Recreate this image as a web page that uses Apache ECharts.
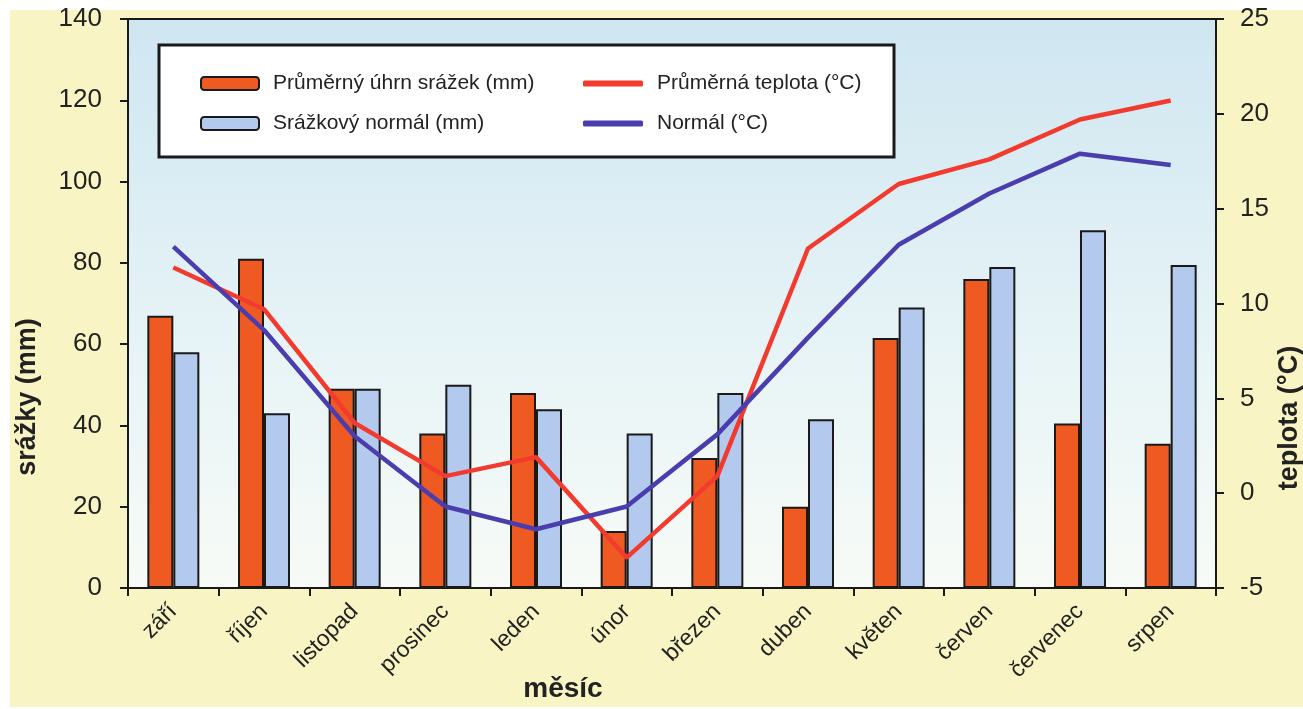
<!DOCTYPE html>
<html>
<head>
<meta charset="utf-8">
<script src="https://cdn.jsdelivr.net/npm/echarts@6/dist/echarts.min.js"></script>
<style>
html,body{margin:0;padding:0;background:#ffffff;}
#chart{width:1303px;height:709px;}
</style>
</head>
<body>
<div id="chart"></div>
<script>
// ---- data ----
var months = ['září','říjen','listopad','prosinec','leden','únor','březen','duben','květen','červen','červenec','srpen'];
var precipAvg = [67, 81, 49, 38, 48, 14, 32, 20, 61.5, 76, 40.5, 35.5];
var precipNormal = [58, 43, 49, 50, 44, 38, 48, 41.5, 69, 79, 88, 79.5];
var tempAvg = [11.9, 9.7, 3.7, 0.9, 1.9, -3.4, 0.9, 12.9, 16.3, 17.6, 19.7, 20.7];
var tempNormal = [13.0, 8.6, 3.0, -0.7, -1.9, -0.7, 3.1, 8.2, 13.1, 15.8, 17.9, 17.3];
var seriesNames = ['Průměrný úhrn srážek (mm)', 'Srážkový normál (mm)', 'Průměrná teplota (°C)', 'Normál (°C)'];
var axisTitles = {left: 'srážky (mm)', right: 'teplota (°C)', bottom: 'měsíc'};

var FONT = 'Arial, "Liberation Sans", Helvetica, sans-serif';
var chart = echarts.init(document.getElementById('chart'), null, {renderer: 'canvas'});

var option = {
  animation: false,
  backgroundColor: '#ffffff',
  textStyle: {fontFamily: FONT},
  graphic: [
    {type: 'rect', z: -10, silent: true, shape: {x: 10, y: 10, width: 1293, height: 697}, style: {fill: '#f8f4c4'}},
    {type: 'rect', z: 1, silent: true, shape: {x: 159, y: 45, width: 735, height: 112}, style: {fill: '#ffffff', stroke: '#1a1a1a', lineWidth: 3}},
    {type: 'text', silent: true, x: 28, y: 397, rotation: Math.PI / 2,
      style: {text: axisTitles.left, font: 'bold 27px ' + FONT, fill: '#222', textAlign: 'center', textVerticalAlign: 'middle'}},
    {type: 'text', silent: true, x: 1290, y: 418, rotation: Math.PI / 2,
      style: {text: axisTitles.right, font: 'bold 27px ' + FONT, fill: '#222', textAlign: 'center', textVerticalAlign: 'middle'}},
    {type: 'text', silent: true, x: 563, y: 689,
      style: {text: axisTitles.bottom, font: 'bold 28px ' + FONT, fill: '#222', textAlign: 'center', textVerticalAlign: 'middle'}}
  ],
  legend: [
    {
      z: 5, left: 200, top: 73, orient: 'vertical', padding: 0,
      itemWidth: 58, itemHeight: 13, itemGap: 19,
      textStyle: {fontSize: 21, color: '#222', fontFamily: FONT, lineHeight: 20, padding: [0, 0, 0, 9]},
      data: [seriesNames[0], seriesNames[1]]
    },
    {
      z: 5, left: 583, top: 73, orient: 'vertical', padding: 0,
      itemWidth: 60, itemHeight: 6, itemGap: 19,
      textStyle: {fontSize: 21, color: '#222', fontFamily: FONT, lineHeight: 20, padding: [0, 0, 0, 9]},
      data: [
        {name: seriesNames[2], icon: 'roundRect'},
        {name: seriesNames[3], icon: 'roundRect'}
      ]
    }
  ],
  grid: {
    left: 128, right: 87, top: 19, bottom: 121, containLabel: false,
    show: true, borderColor: '#1a1a1a', borderWidth: 2,
    backgroundColor: {
      type: 'linear', x: 0, y: 0, x2: 0, y2: 1,
      colorStops: [{offset: 0, color: '#cfe6f1'}, {offset: 0.55, color: '#e6f3f6'}, {offset: 1, color: '#f7fbf7'}]
    }
  },
  xAxis: {
    type: 'category', data: months, boundaryGap: true,
    axisLine: {lineStyle: {color: '#1a1a1a', width: 2}},
    axisTick: {show: true, length: 8, lineStyle: {color: '#1a1a1a', width: 2}},
    axisLabel: {rotate: 45, margin: 20, fontSize: 23, color: '#222', fontFamily: FONT, interval: 0},
    splitLine: {show: false}
  },
  yAxis: [
    {
      type: 'value', min: 0, max: 140, interval: 20, position: 'left',
      axisLine: {show: true, lineStyle: {color: '#1a1a1a', width: 2}},
      axisTick: {show: true, length: 8, lineStyle: {color: '#1a1a1a', width: 2}},
      axisLabel: {fontSize: 26, color: '#222', margin: 26, fontFamily: FONT},
      splitLine: {show: false}
    },
    {
      type: 'value', min: -5, max: 25, interval: 5, position: 'right',
      axisLine: {show: true, lineStyle: {color: '#1a1a1a', width: 2}},
      axisTick: {show: true, length: 8, lineStyle: {color: '#1a1a1a', width: 2}},
      axisLabel: {fontSize: 26, color: '#222', margin: 24, fontFamily: FONT},
      splitLine: {show: false}
    }
  ],
  series: [
    {
      name: seriesNames[0], type: 'bar', yAxisIndex: 0, data: precipAvg,
      barWidth: 26, barGap: '0%', z: 2,
      itemStyle: {color: '#ef5a22', borderColor: '#1a1a1a', borderWidth: 2}
    },
    {
      name: seriesNames[1], type: 'bar', yAxisIndex: 0, data: precipNormal,
      barWidth: 26, barGap: '0%', z: 2,
      itemStyle: {color: '#b3caee', borderColor: '#1a1a1a', borderWidth: 2}
    },
    {
      name: seriesNames[2], type: 'line', yAxisIndex: 1, data: tempAvg,
      symbol: 'none', z: 3,
      lineStyle: {color: '#f23a2e', width: 4.5},
      itemStyle: {color: '#f23a2e'}
    },
    {
      name: seriesNames[3], type: 'line', yAxisIndex: 1, data: tempNormal,
      symbol: 'none', z: 3,
      lineStyle: {color: '#4a3dae', width: 4.5},
      itemStyle: {color: '#4a3dae'}
    }
  ]
};
chart.setOption(option);
</script>
</body>
</html>
